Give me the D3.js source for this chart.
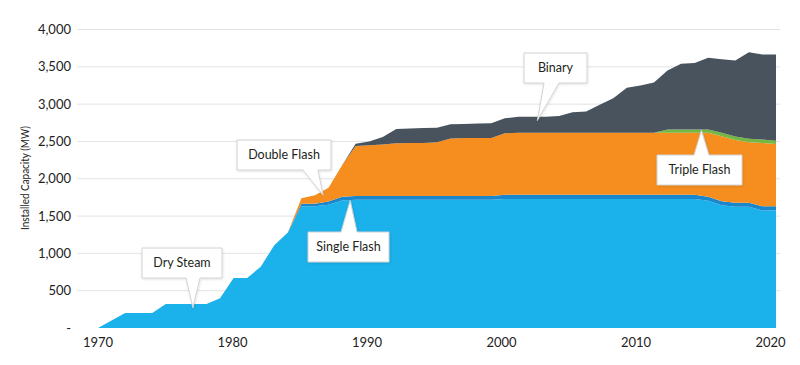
<!DOCTYPE html>
<html><head><meta charset="utf-8">
<script src="https://cdn.jsdelivr.net/npm/d3@7"></script>
<style>body{margin:0;background:#fff}svg{display:block}text{font-family:Lato,"Open Sans",sans-serif}</style>
</head><body>
<svg id="c" width="800" height="365"></svg>
<script>
const years = d3.range(1970, 2021);
const drySteam = [0,100,200,200,200,320,320,320,320,400,670,670,820,1110,1280,1630,1630,1650,1710,1720,
  1720,1720,1720,1720,1720,1720,1720,1720,1720,1720,1730,1730,1730,1730,1730,1730,1730,1730,1730,1730,
  1730,1730,1730,1730,1730,1705,1645,1625,1625,1575,1575];
const singleFlash = [0,0,0,0,0,0,0,0,0,0,0,0,0,0,0,35,35,45,50,50,
  50,50,50,50,50,50,50,50,50,50,55,55,55,55,55,55,55,55,55,55,
  55,55,55,55,55,55,55,55,55,55,55];
const doubleFlash = [0,0,0,0,0,0,0,0,0,0,0,0,0,0,0,75,115,185,420,670,
  680,690,705,710,710,720,770,775,775,775,825,830,830,830,830,830,830,830,830,830,
  830,830,830,830,830,855,870,840,810,850,835];
const tripleFlash = [0,0,0,0,0,0,0,0,0,0,0,0,0,0,0,0,0,0,0,0,
  0,0,0,0,0,0,0,0,0,0,0,0,0,0,0,0,0,0,0,0,
  0,0,45,45,45,45,45,45,45,45,45];
const binary = [0,0,0,0,0,0,0,0,0,0,0,0,0,0,0,0,0,0,0,30,
  50,100,190,195,200,195,190,190,195,200,200,215,215,215,225,275,285,375,465,605,
  635,675,790,880,890,960,986,1020,1160,1140,1155];
const seriesNames = ["Dry Steam","Single Flash","Double Flash","Triple Flash","Binary"];
const seriesColors = ["#1bb1ea","#1a87cc","#f68e1f","#74b843","#48535d"];
const yTicks = [0,500,1000,1500,2000,2500,3000,3500,4000];
const xTicks = [1970,1980,1990,2000,2010,2020];
const yTitle = "Installed Capacity (MW)";
const callouts = [
  {text:"Dry Steam", year:1977, value:270, box:[142,248,222,278], side:"bottom", base:[186,200]},
  {text:"Double Flash", year:1986.6, value:1780, box:[237,140,331,170], side:"bottom", base:[303,318]},
  {text:"Single Flash", year:1988.6, value:1710, box:[308,232,389,262], side:"top", base:[341,357]},
  {text:"Binary", year:2002.4, value:2780, box:[524,53,587,83], side:"bottom", base:[544,559]},
  {text:"Triple Flash", year:2014.5, value:2650, box:[657,155,742,185], side:"top", base:[694,709]}
];

const svg = d3.select("#c");
const defs = svg.append("defs");
const f = defs.append("filter").attr("id","sh").attr("x","-10%").attr("y","-10%").attr("width","130%").attr("height","140%");
f.append("feDropShadow").attr("dx",0.5).attr("dy",1).attr("stdDeviation",1).attr("flood-color","#000").attr("flood-opacity",0.12);

const x = d3.scaleLinear().domain([1970,2020]).range([98,776]);
const y = d3.scaleLinear().domain([0,4000]).range([328,29.5]);

svg.append("g").selectAll("line").data(yTicks.filter(d=>d>0)).join("line")
  .attr("x1",77).attr("x2",780).attr("y1",d=>y(d)).attr("y2",d=>y(d))
  .attr("stroke","#e3e3e3").attr("stroke-width",1);

svg.append("g").selectAll("text").data(yTicks).join("text")
  .attr("x",71).attr("y",d=>y(d)).attr("dy","0.35em").attr("text-anchor","end")
  .attr("font-size",13).attr("fill","#222")
  .text(d=> d===0 ? "-" : d3.format(",")(d));

svg.append("g").selectAll("text").data(xTicks).join("text")
  .attr("x",d=>x(d) - (d-1970)*0.11).attr("y",342).attr("dy","0.35em").attr("text-anchor","middle")
  .attr("font-size",13).attr("fill","#222").text(d=>d);

svg.append("text").attr("transform","translate(29,178) rotate(-90)")
  .attr("text-anchor","middle").attr("font-size",12).attr("fill","#222")
  .attr("textLength",104).attr("lengthAdjust","spacingAndGlyphs").text(yTitle);

const table = years.map((yr,i)=>({year:yr, "Dry Steam":drySteam[i], "Single Flash":singleFlash[i],
  "Double Flash":doubleFlash[i], "Triple Flash":tripleFlash[i], "Binary":binary[i]}));
const stack = d3.stack().keys(seriesNames)(table);
const area = d3.area().x(d=>x(d.data.year)).y0(d=>y(d[0])).y1(d=>y(d[1]));
svg.append("g").selectAll("path").data(stack).join("path")
  .attr("d",area).attr("fill",(d,i)=>seriesColors[i]);

function calloutPath(c, tx, ty){
  const [x0,y0,x1,y1] = c.box, [b0,b1] = c.base;
  if(c.side==="bottom"){
    return `M${x0},${y0}H${x1}V${y1}H${b1}L${tx},${ty}L${b0},${y1}H${x0}Z`;
  } else {
    return `M${x0},${y0}H${b0}L${tx},${ty}L${b1},${y0}H${x1}V${y1}H${x0}Z`;
  }
}
const cg = svg.append("g");
callouts.forEach(c=>{
  const tx = x(c.year), ty = y(c.value);
  cg.append("path").attr("d",calloutPath(c,tx,ty)).attr("fill","#fff")
    .attr("stroke","#d2d2d2").attr("stroke-width",1).attr("filter","url(#sh)");
  cg.append("text").attr("x",(c.box[0]+c.box[2])/2).attr("y",(c.box[1]+c.box[3])/2)
    .attr("dy","0.35em").attr("text-anchor","middle").attr("font-size",12.5)
    .attr("fill","#231f20").text(c.text);
});
</script>
</body></html>
